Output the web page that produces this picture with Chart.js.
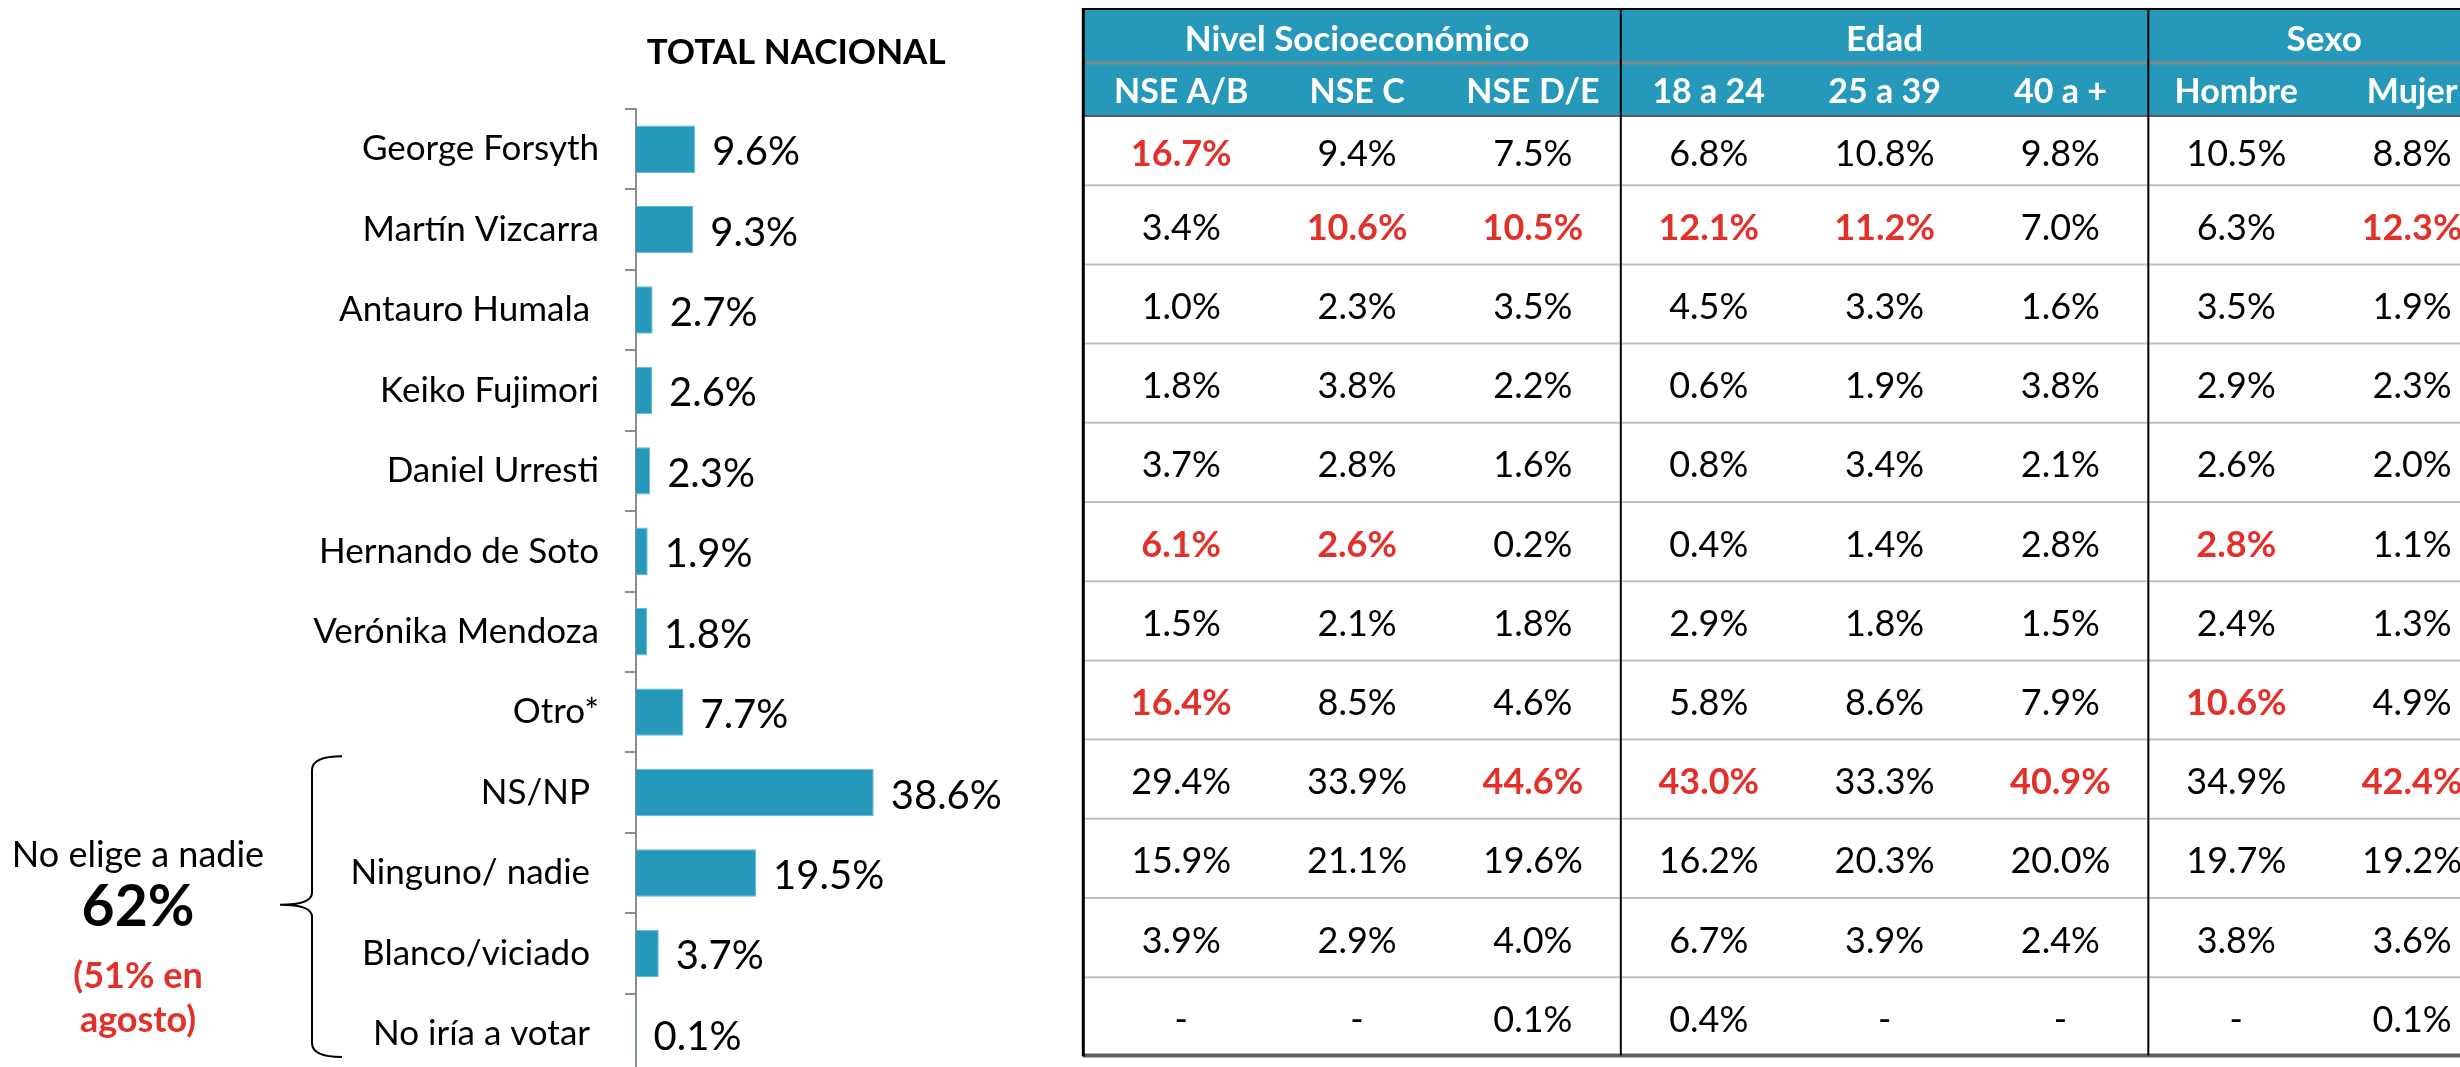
<!DOCTYPE html>
<html lang="es">
<head>
<meta charset="utf-8">
<title>Intención de voto - Total nacional</title>
<script src="https://cdn.jsdelivr.net/npm/chart.js@4.4.1/dist/chart.umd.min.js"></script>
<style>
  html, body { margin: 0; padding: 0; background: #fff; overflow: hidden; }
  #wrap { position: relative; width: 2460px; height: 1067px; overflow: hidden; }
  #bars { position: absolute; left: 0; top: 0; }
  #tabla { position: absolute; left: 1060px; top: 0; }
</style>
</head>
<body>
<div id="wrap">
  <canvas id="bars" width="1083" height="1121"></canvas>
  <canvas id="tabla" width="1440" height="1067"></canvas>
</div>
<script>
// categorias (el espacio final es del original)
const candidatos = ['George Forsyth', 'Martín Vizcarra', 'Antauro Humala ', 'Keiko Fujimori',
  'Daniel Urresti', 'Hernando de Soto', 'Verónika Mendoza', 'Otro*', 'NS/NP ',
  'Ninguno/ nadie ', 'Blanco/viciado ', 'No iría a votar '];
const totalNacional = [9.6, 9.3, 2.7, 2.6, 2.3, 1.9, 1.8, 7.7, 38.6, 19.5, 3.7, 0.1];

// tabla por segmento (null = "-")
const grupos = ['Nivel Socioeconómico', 'Edad', 'Sexo'];
const segmentos = ['NSE A/B', 'NSE C', 'NSE D/E', '18 a 24', '25 a 39', '40 a +', 'Hombre', 'Mujer'];
const grupoDeSegmento = [0, 0, 0, 1, 1, 1, 2, 2];
const nseAB  = [16.7, 3.4, 1.0, 1.8, 3.7, 6.1, 1.5, 16.4, 29.4, 15.9, 3.9, null];
const nseC   = [9.4, 10.6, 2.3, 3.8, 2.8, 2.6, 2.1, 8.5, 33.9, 21.1, 2.9, null];
const nseDE  = [7.5, 10.5, 3.5, 2.2, 1.6, 0.2, 1.8, 4.6, 44.6, 19.6, 4.0, 0.1];
const edad18 = [6.8, 12.1, 4.5, 0.6, 0.8, 0.4, 2.9, 5.8, 43.0, 16.2, 6.7, 0.4];
const edad25 = [10.8, 11.2, 3.3, 1.9, 3.4, 1.4, 1.8, 8.6, 33.3, 20.3, 3.9, null];
const edad40 = [9.8, 7.0, 1.6, 3.8, 2.1, 2.8, 1.5, 7.9, 40.9, 20.0, 2.4, null];
const hombre = [10.5, 6.3, 3.5, 2.9, 2.6, 2.8, 2.4, 10.6, 34.9, 19.7, 3.8, null];
const mujer  = [8.8, 12.3, 1.9, 2.3, 2.0, 1.1, 1.3, 4.9, 42.4, 19.2, 3.6, 0.1];
const columnas = [nseAB, nseC, nseDE, edad18, edad25, edad40, hombre, mujer];

// celdas resaltadas en rojo: [fila, segmento]
const destacados = [[0, 0], [1, 1], [1, 2], [1, 3], [1, 4], [1, 7], [5, 0], [5, 1], [5, 6],
  [7, 0], [7, 6], [8, 2], [8, 3], [8, 5], [8, 7]];

const TEAL = '#2699ba';
const RED = '#e2312b';
const FONT = 'Lato';

const fmt = v => v == null ? '-' : v.toFixed(1) + '%';

// ---------- grafico de barras ----------
const valueLabels = {
  id: 'valueLabels',
  afterDatasetsDraw(chart) {
    const ctx = chart.ctx;
    ctx.save();
    ctx.font = `40px ${FONT}`;
    ctx.fillStyle = '#000';
    ctx.textAlign = 'left';
    ctx.textBaseline = 'alphabetic';
    chart.getDatasetMeta(0).data.forEach((bar, i) => {
      ctx.fillText(fmt(totalNacional[i]), bar.x + 17, bar.y + 16);
    });
    ctx.restore();
  }
};

const braceNote = {
  id: 'braceNote',
  afterDraw(chart) {
    const ctx = chart.ctx;
    const y = chart.scales.y;
    const half = (y.getPixelForValue(1) - y.getPixelForValue(0)) / 2;
    const top = y.getPixelForValue(8) - half + 4;
    const bottom = y.getPixelForValue(11) + half - 17;
    const mid = (top + bottom) / 2 - 2;
    const xr = 342, xm = 312, xt = 280;
    ctx.save();
    ctx.strokeStyle = '#000';
    ctx.lineWidth = 2;
    ctx.beginPath();
    ctx.moveTo(xr, top);
    ctx.quadraticCurveTo(xm, top, xm, top + 14);
    ctx.lineTo(xm, mid - 12);
    ctx.quadraticCurveTo(xm, mid, xt, mid);
    ctx.quadraticCurveTo(xm, mid, xm, mid + 12);
    ctx.lineTo(xm, bottom - 14);
    ctx.quadraticCurveTo(xm, bottom, xr, bottom);
    ctx.stroke();

    ctx.textAlign = 'center';
    ctx.textBaseline = 'alphabetic';
    ctx.fillStyle = '#000';
    ctx.font = `36px ${FONT}`;
    ctx.fillText('No elige a nadie', 138, 867);
    ctx.font = `bold 57px ${FONT}`;
    ctx.fillText('62%', 138, 926);
    ctx.fillStyle = RED;
    ctx.font = `bold 36px ${FONT}`;
    ctx.fillText('(51% en', 138, 988);
    ctx.fillText('agosto)', 138, 1032);
    ctx.restore();
  }
};

new Chart(document.getElementById('bars'), {
  type: 'bar',
  data: {
    labels: candidatos,
    datasets: [{
      data: totalNacional,
      backgroundColor: TEAL,
      borderColor: '#62bbd5',
      borderWidth: 1,
      categoryPercentage: 1,
      barPercentage: 0.59
    }]
  },
  options: {
    indexAxis: 'y',
    responsive: false,
    animation: false,
    layout: { padding: { left: 0, right: 126.7, top: 0, bottom: 16 } },
    plugins: {
      legend: { display: false },
      tooltip: { enabled: false },
      title: {
        display: true,
        text: 'TOTAL NACIONAL',
        fullSize: false,
        color: '#000',
        font: { family: FONT, size: 35, weight: 'bold' },
        padding: { top: 32, bottom: 35 }
      }
    },
    scales: {
      x: { display: false, min: 0, max: 52 },
      y: {
        afterFit(scale) { scale.width = 636; },
        grid: { display: true, drawOnChartArea: false, drawTicks: true, tickLength: 11,
                color: '#8c8c8c', lineWidth: 2, offset: true },
        border: { display: true, color: '#8c8c8c', width: 2 },
        ticks: { color: '#000', font: { family: FONT, size: 35 }, padding: 26, autoSkip: false }
      }
    }
  },
  plugins: [valueLabels, braceNote]
});

// ---------- tabla por segmentos ----------
const celdas = [];
candidatos.forEach((fila, r) => {
  segmentos.forEach((seg, c) => {
    celdas.push({
      x: seg, y: fila, v: columnas[c][r],
      hi: destacados.some(d => d[0] === r && d[1] === c)
    });
  });
});

const HEAD_TOP = 9, HEAD_MID = 62, HEAD_BOTTOM = 116;

const tableDraw = {
  id: 'tableDraw',
  beforeDatasetsDraw(chart) {
    const ctx = chart.ctx;
    const ca = chart.chartArea;
    const xs = chart.scales.x, ys = chart.scales.y;
    const rowH = ys.getPixelForValue(1) - ys.getPixelForValue(0);
    const left = ca.left - 10, right = chart.width;
    const bottom = ca.bottom - 1;

    ctx.save();
    ctx.fillStyle = TEAL;
    ctx.fillRect(left, HEAD_TOP, right - left, HEAD_BOTTOM - HEAD_TOP);

    const hline = (yy, color, w) => {
      ctx.strokeStyle = color; ctx.lineWidth = w;
      ctx.beginPath(); ctx.moveTo(left, yy); ctx.lineTo(right, yy); ctx.stroke();
    };
    hline(HEAD_MID + 1, '#858585', 3);
    for (let i = 1; i < candidatos.length; i++) {
      hline(ys.getPixelForValue(i) - rowH / 2, '#c0c0c0', 2);
    }
    hline(HEAD_BOTTOM, '#5a5a5a', 2);
    hline(bottom, '#5f5f5f', 4);
    hline(HEAD_TOP, '#000', 2);

    // separadores de grupo
    ctx.strokeStyle = '#000';
    ctx.lineWidth = 2;
    for (let c = 1; c < segmentos.length; c++) {
      if (grupoDeSegmento[c] !== grupoDeSegmento[c - 1]) {
        const xx = (xs.getPixelForValue(c - 1) + xs.getPixelForValue(c)) / 2;
        ctx.beginPath(); ctx.moveTo(xx, HEAD_TOP); ctx.lineTo(xx, bottom); ctx.stroke();
      }
    }
    ctx.lineWidth = 3;
    ctx.beginPath(); ctx.moveTo(left, HEAD_TOP - 1); ctx.lineTo(left, bottom + 1); ctx.stroke();

    // encabezados
    ctx.fillStyle = '#fff';
    ctx.textAlign = 'center';
    ctx.textBaseline = 'alphabetic';
    ctx.font = `bold 35px ${FONT}`;
    grupos.forEach((g, gi) => {
      const cols = segmentos.map((s, c) => c).filter(c => grupoDeSegmento[c] === gi);
      const cx = cols.reduce((a, c) => a + xs.getPixelForValue(c), 0) / cols.length;
      ctx.fillText(g, cx, 51);
    });
    ctx.font = `bold 34px ${FONT}`;
    segmentos.forEach((s, c) => ctx.fillText(s, xs.getPixelForValue(c), 103));
    ctx.restore();
  },
  afterDatasetsDraw(chart) {
    const ctx = chart.ctx;
    const ys = chart.scales.y;
    const rowH = ys.getPixelForValue(1) - ys.getPixelForValue(0);
    ctx.save();
    ctx.textAlign = 'center';
    ctx.textBaseline = 'alphabetic';
    chart.getDatasetMeta(0).data.forEach((pt, i) => {
      const cell = celdas[i];
      // centro de la franja visible (la primera fila empieza bajo el encabezado)
      const mid = (Math.max(pt.y - rowH / 2, HEAD_BOTTOM) + pt.y + rowH / 2) / 2;
      ctx.font = cell.hi ? `bold 36px ${FONT}` : `36px ${FONT}`;
      ctx.fillStyle = cell.hi ? RED : '#000';
      ctx.fillText(fmt(cell.v), pt.x, mid + 15);
    });
    ctx.restore();
  }
};

new Chart(document.getElementById('tabla'), {
  type: 'scatter',
  data: {
    datasets: [{ data: celdas, pointRadius: 0, pointHoverRadius: 0 }]
  },
  options: {
    responsive: false,
    animation: false,
    layout: { padding: { left: 33.3, right: 0, top: 106, bottom: 10.6 } },
    plugins: { legend: { display: false }, tooltip: { enabled: false } },
    scales: {
      x: { type: 'category', labels: segmentos, offset: true, display: false },
      y: { type: 'category', labels: candidatos, offset: true, display: false }
    }
  },
  plugins: [tableDraw]
});
</script>
</body>
</html>
